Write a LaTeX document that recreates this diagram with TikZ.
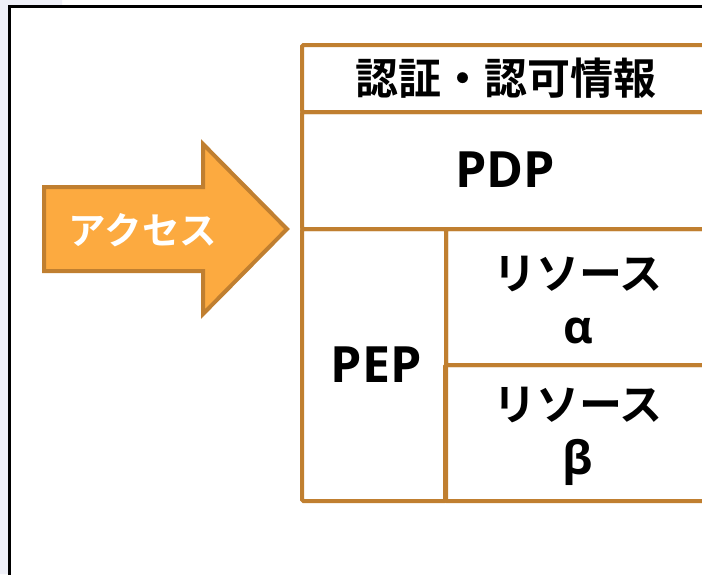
\documentclass[tikz,border=0pt]{standalone}
\usepackage{fontspec}
\newfontfamily\jpfont{Noto Sans CJK JP}[BoldFont={Noto Sans CJK JP Bold}]
\newfontfamily\latfont{Open Sans}
\definecolor{brownline}{HTML}{C07F30}
\definecolor{orangefill}{HTML}{FCAA40}
\definecolor{lavender}{HTML}{EFF0F8}
\tikzset{
  cell/.style={draw=brownline, line width=4pt, rounded corners=1.5pt},
  lbl/.style={font=\jpfont\bfseries\fontsize{43}{54}\selectfont, text=black, align=center, inner sep=0pt},
}
\newcommand{\lat}[1]{{\latfont\bfseries\fontsize{50}{52}\selectfont #1}}
\newcommand{\grk}[1]{{\latfont\bfseries\fontsize{46}{52}\selectfont #1}}
\begin{document}
\begin{tikzpicture}[x=1pt,y=-1pt]
\useasboundingbox (0,0) rectangle (702,574);
% background strips
\fill[lavender] (0,0) -- (62,0) -- (62,5) -- (8,5) -- (8,574) -- (0,574) -- cycle;
% frame
\draw[black, line width=2.5pt] (9.25,580) -- (9.25,6.25) -- (710,6.25);
% cells
\draw[cell] (302,45) rectangle (712,112);
\draw[cell] (302,112) rectangle (712,229);
\draw[cell] (302,229) rectangle (446,501);
\draw[cell] (446,229) rectangle (712,365);
\draw[cell] (445,365) rectangle (712,501);
% labels
\node[lbl] (auth) at (506,78) {認証・認可情報};
\node[lbl] (pdp) at (505,170) {\lat{PDP}};
\node[lbl] (pep) at (376,365) {\lat{PEP}};
\node[lbl] (resa) at (578,300) {リソース\\\grk{α}};
\node[lbl] (resb) at (578,436) {リソース\\\grk{β}};
% arrow
\draw[fill=orangefill, draw=brownline, line width=4pt, line join=miter]
  (44,187) -- (203,187) -- (203,144) -- (287,229) -- (203,314) -- (203,271) -- (44,271) -- cycle;
\node[font=\jpfont\bfseries\fontsize{37.5}{40}\selectfont, text=white, inner sep=0pt] (access) at (143,230) {アクセス};
\end{tikzpicture}
\end{document}
